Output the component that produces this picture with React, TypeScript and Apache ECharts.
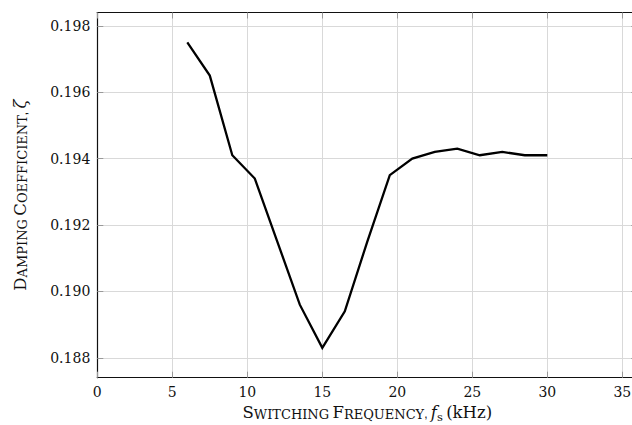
import React, { useEffect, useRef } from "react";
import * as echarts from "echarts";

const freqKHz = [6, 7.5, 9, 10.5, 12, 13.5, 15, 16.5, 18, 19.5, 21, 22.5, 24, 25.5, 27, 28.5, 30];
const zeta = [0.1975, 0.1965, 0.1941, 0.1934, 0.1915, 0.1896, 0.1883, 0.1894, 0.1915, 0.1935, 0.194, 0.1942, 0.1943, 0.1941, 0.1942, 0.1941, 0.1941];
const yTicks = [0.188, 0.19, 0.192, 0.194, 0.196, 0.198];
const xTicks = [0, 5, 10, 15, 20, 25, 30, 35];

const FONT = "DejaVu Serif";

export default function App() {
  const ref = useRef<HTMLDivElement>(null);
  useEffect(() => {
    if (!ref.current) return;
    const chart = echarts.init(ref.current, null, { renderer: "svg" });
    const axisLine = { show: true, onZero: false, lineStyle: { color: "#111", width: 1.2 } };
    const tick = { show: true, inside: true, length: 6, lineStyle: { color: "#999", width: 1 } };
    const rich = {
      b: { fontFamily: FONT, fontSize: 16.5, lineHeight: 17, color: "#111", verticalAlign: "bottom", padding: [0, 0, 2, 0] },
      s: { fontFamily: FONT, fontSize: 13, lineHeight: 17, color: "#111", verticalAlign: "bottom", padding: [0, 0, 2, 0] },
      i: { fontFamily: FONT, fontStyle: "italic", fontSize: 16.5, lineHeight: 17, color: "#111", verticalAlign: "bottom", padding: [0, 0, 2, 0] },
      sub: { fontFamily: FONT, fontSize: 11.5, lineHeight: 17, color: "#111", verticalAlign: "bottom", padding: [0, 0, 0, 0] },
    };
    chart.setOption({
      animation: false,
      grid: { left: 97.3, top: 12.5, width: 540, height: 365.2, containLabel: false, outerBoundsMode: "none" },
      xAxis: [
        {
          type: "value",
          min: 0,
          max: 36,
          interval: 5,
          position: "bottom",
          axisLine,
          axisTick: { ...tick, customValues: xTicks },
          splitLine: { show: true, lineStyle: { color: "#d9d9d9", width: 1 } },
          axisLabel: {
            customValues: xTicks,
            fontFamily: FONT,
            fontSize: 14,
            color: "#111",
            margin: 7,
          },
          name: "{b|S}{s|WITCHING} {b|F}{s|REQUENCY}, {i|f}{sub|s} {b|(kHz)}",
          nameLocation: "middle",
          nameGap: 27,
          nameTextStyle: { rich },
        },
        {
          type: "value",
          min: 0,
          max: 36,
          interval: 5,
          position: "top",
          axisLine,
          axisTick: { ...tick, customValues: xTicks },
          splitLine: { show: false },
          axisLabel: { show: false },
        },
      ],
      yAxis: [
        {
          type: "value",
          min: 0.1874,
          max: 0.1984,
          splitNumber: 5,
          position: "left",
          axisLine,
          axisTick: { ...tick, customValues: yTicks },
          splitLine: { show: true, lineStyle: { color: "#d9d9d9", width: 1 } },
          axisLabel: {
            customValues: yTicks,
            fontFamily: FONT,
            fontSize: 14,
            color: "#111",
            margin: 7,
            formatter: (v: number) => v.toFixed(3),
          },
          name: "{b|D}{s|AMPING} {b|C}{s|OEFFICIENT}, {i|ζ}",
          nameLocation: "middle",
          nameRotate: 90,
          nameGap: 66,
          nameTextStyle: { rich },
        },
        {
          type: "value",
          min: 0.1874,
          max: 0.1984,
          splitNumber: 5,
          position: "right",
          axisLine,
          axisTick: { ...tick, customValues: yTicks },
          splitLine: { show: false },
          axisLabel: { show: false },
        },
      ],
      series: [
        {
          type: "line",
          xAxisIndex: 0,
          yAxisIndex: 0,
          data: freqKHz.map((f, i) => [f, zeta[i]]),
          showSymbol: false,
          symbol: "none",
          lineStyle: { color: "#000", width: 2.3, join: "miter" },
        },
      ],
    });
    return () => chart.dispose();
  }, []);
  return (
    <div
      ref={ref}
      style={{ position: "absolute", left: 0, top: 0, width: 632, height: 425 }}
    />
  );
}
